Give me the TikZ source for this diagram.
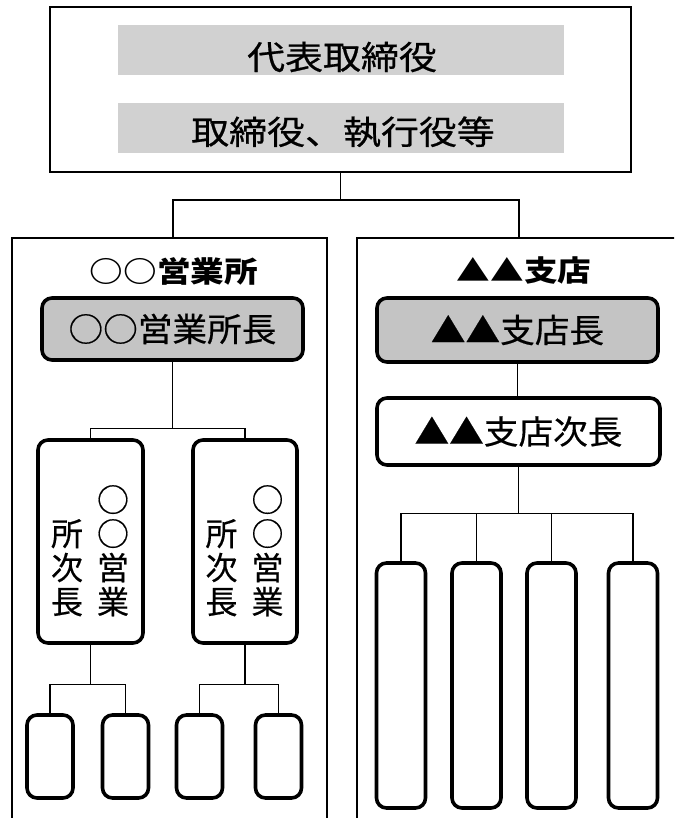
\documentclass[tikz,border=0pt]{standalone}
\usepackage{fontspec}
\usetikzlibrary{calc}
\newfontfamily\jpA[FakeStretch=1.15,FakeBold=0.6]{Noto Sans CJK JP}
\newfontfamily\jpT[FakeStretch=1.16]{Noto Sans CJK JP}
\newfontfamily\jpB[FakeStretch=1.05,FakeBold=0.5]{Noto Sans CJK JP}
\newfontfamily\jpV[FakeStretch=1.0,FakeBold=0.5]{Noto Sans CJK JP}
\definecolor{bandgray}{gray}{0.82}
\definecolor{boxgray}{gray}{0.77}
\tikzset{
  frame/.style={draw, line width=1.8pt, inner sep=0pt},
  rbox/.style={draw, line width=3.6pt, rounded corners=10pt, inner sep=0pt, fill=white},
  gbox/.style={rbox, fill=boxgray},
  conn/.style={line width=1.3pt},
  toptxt/.style={inner sep=0pt, font=\jpA\fontsize{33}{33}\selectfont},
  titletxt/.style={inner sep=0pt, font=\jpT\bfseries\fontsize{29}{29}\selectfont},
  boxtxt/.style={inner sep=0pt, font=\jpB\fontsize{33}{33}\selectfont},
  vcol/.style={inner sep=0pt, align=center, anchor=south, font=\jpV\fontsize{32}{34}\selectfont},
}
\begin{document}
\begin{tikzpicture}[x=1pt,y=-1pt]
\useasboundingbox (0,0) rectangle (674,818);
\clip (0,0) rectangle (674,818);
\fill[white] (0,0) rectangle (674,818);

% top box
\node[frame, minimum width=581pt, minimum height=165pt] (top) at (340.5,89.5) {};
\fill[bandgray] (118,25) rectangle (564,75);
\fill[bandgray] (118,103) rectangle (564,153);
\node[toptxt] (t1) at (342,57) {代表取締役};
\node[toptxt] (t2) at (343,132) {取締役、執行役等};

% panels
\node[frame, minimum width=315pt, minimum height=620pt, anchor=north] (panelL) at (169.5,237) {};
\node[frame, minimum width=340pt, minimum height=620pt, anchor=north] (panelR) at (527,237) {};
\coordinate (pL) at (173,237);
\coordinate (pR) at (519,237);
\draw[conn] (top.south) -- ++(0,27) coordinate (b1);
\draw[conn] (pL) |- (b1) -| (pR);

% left branch
\node[titletxt] (titleL) at (174,271) {○○営業所};
\node[gbox, minimum width=261pt, minimum height=62pt] (mgrL) at (172.5,329) {};
\node[boxtxt] (mgrLt) at (mgrL) {○○営業所長};
\node[rbox, minimum width=105pt, minimum height=203pt] (subL1) at (90.5,541.5) {};
\node[rbox, minimum width=104pt, minimum height=203pt] (subL2) at (245,541.5) {};
\node[vcol] (subL1a) at ($(subL1.center)+(22.5,75)$) {○\\○\\営\\業};
\node[vcol] (subL1b) at ($(subL1.center)+(-23.5,75)$) {所\\次\\長};
\node[vcol] (subL2a) at ($(subL2.center)+(22.5,75)$) {○\\○\\営\\業};
\node[vcol] (subL2b) at ($(subL2.center)+(-23.5,75)$) {所\\次\\長};
\draw[conn] (mgrL.south) -- ++(0,67) coordinate (b2);
\draw[conn] (subL1.north) |- (b2) -| (subL2.north);

\foreach \n/\x in {s1/50,s2/125.5,s3/199.5,s4/278.5}{
  \node[rbox, minimum width=46pt, minimum height=83pt] (\n) at (\x,756.5) {};
}
\draw[conn] (subL1.south) -- ++(0,40) coordinate (b3);
\draw[conn] (s1.north) |- (b3) -| (s2.north);
\draw[conn] (subL2.south) -- ++(0,40) coordinate (b5);
\draw[conn] (s3.north) |- (b5) -| (s4.north);

% right branch
\node[titletxt] (titleR) at (524,271) {▲▲支店};
\node[gbox, minimum width=281pt, minimum height=64pt] (mgrR) at (517.5,330) {};
\node[boxtxt] (mgrRt) at (mgrR) {▲▲支店長};
\node[rbox, minimum width=283pt, minimum height=67pt] (depR) at (518.5,431.5) {};
\node[boxtxt] (depRt) at (depR) {▲▲支店次長};
\draw[conn] (mgrR.south) -- (mgrR.south |- depR.north);

\foreach \n/\x in {r1/401,r2/476.5,r3/551.5,r4/633}{
  \node[rbox, minimum width=49pt, minimum height=245pt] (\n) at (\x,685.5) {};
}
\draw[conn] (depR.south) -- ++(0,47) coordinate (b4);
\draw[conn] (r1.north) |- (b4) -| (r4.north);
\draw[conn] (r2.north) -- (r2.north |- b4);
\draw[conn] (r3.north) -- (r3.north |- b4);
\end{tikzpicture}
\end{document}
